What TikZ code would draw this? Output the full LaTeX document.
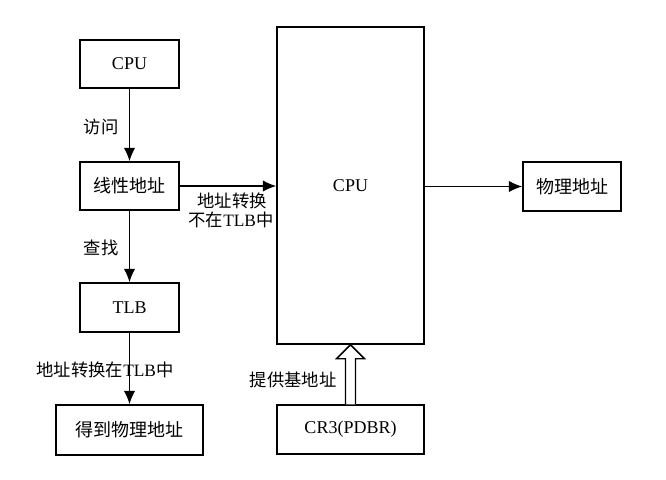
\documentclass[tikz,border=0pt]{standalone}
\usepackage{fontspec}
\setmainfont{Liberation Serif}
\newfontfamily\cjk{Noto Sans CJK SC}
\usetikzlibrary{arrows.meta,calc}
\begin{document}
\begin{tikzpicture}[x=0.75pt,y=-0.75pt,
  box/.style={draw,line width=1.1pt,inner sep=0pt,font=\fontsize{13.5}{15}\selectfont},
  lbl/.style={inner sep=0pt,font=\fontsize{13}{15}\selectfont},
  flow/.style={line width=1.1pt,-{Latex[length=10pt,width=8.5pt]}}]
\useasboundingbox (0,0) rectangle (666,479);
% boxes
\node[box,minimum width=99*0.75pt,minimum height=48*0.75pt] (cpu) at (129.5,64) {CPU};
\node[box,minimum width=99*0.75pt,minimum height=48*0.75pt] (lin) at (129.5,186) {\cjk 线性地址};
\node[box,minimum width=99*0.75pt,minimum height=49*0.75pt] (tlb) at (129.5,307.5) {TLB};
\node[box,minimum width=147*0.75pt,minimum height=50*0.75pt] (get) at (129.5,430) {\cjk 得到物理地址};
\node[box,minimum width=147*0.75pt,minimum height=317*0.75pt] (big) at (350.5,185.5) {CPU};
\node[box,minimum width=98*0.75pt,minimum height=49*0.75pt] (phys) at (572,186.5) {\cjk 物理地址};
\node[box,minimum width=147*0.75pt,minimum height=49*0.75pt] (cr3) at (350.5,429.5) {CR3(PDBR)};
% labels
\node[lbl] (l1) at (101,127) {\cjk 访问};
\node[lbl] (l2) at (101,248) {\cjk 查找};
\node[lbl] (l3) at (232,201) {\cjk 地址转换};
\node[lbl] (l4) at (231,220) {{\cjk 不在}TLB{\cjk 中}};
\node[lbl] (l5) at (105,370) {{\cjk 地址转换在}TLB{\cjk 中}};
\node[lbl] (l6) at (293,380) {\cjk 提供基地址};
% connectors
\draw[flow] (cpu.south) -- (lin.north);
\draw[flow] (lin.south) -- (tlb.north);
\draw[flow] (tlb.south) -- (get.north);
\draw[flow] (lin.east) -- (lin.east -| big.west);
\draw[flow] (big.east |- phys.west) -- (phys.west);
% hollow arrow from CR3 up to the CPU
\coordinate (hb) at (cr3.north);
\coordinate (ht) at (hb |- big.south);
\draw[line width=1.1pt,fill=white]
  ($(hb)+(-5,0)$) -- ($(ht)+(-5,14)$) -- ($(ht)+(-14,14)$) -- (ht)
  -- ($(ht)+(14,14)$) -- ($(ht)+(5,14)$) -- ($(hb)+(5,0)$);
\end{tikzpicture}
\end{document}
